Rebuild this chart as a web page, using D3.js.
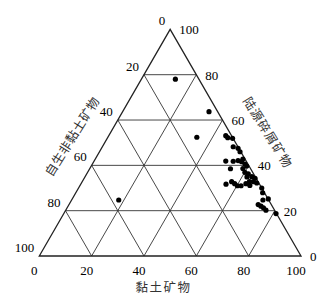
<!DOCTYPE html>
<html>
<head>
<meta charset="utf-8">
<script src="https://cdn.jsdelivr.net/npm/d3@7/dist/d3.min.js"></script>
<style>
  html, body { margin: 0; padding: 0; background: #fff; }
  svg { display: block; }
</style>
</head>
<body>
<div id="chart"></div>
<script>
// grid / tick values (percent)
const ticks = [0, 20, 40, 60, 80, 100]
const gridVals = [20, 40, 60, 80]

// axis titles
const bottomTitle = '黏土矿物'
const leftTitle = '自生非黏土矿物'
const rightTitle = '陆源碎屑矿物'

// samples: clay minerals (%) and terrigenous clastic minerals (%)
// authigenic non-clay = 100 - clay - clastic
const clay = [13, 33, 34, 18,
  44.7, 45.9, 47.9, 50.0, 52.2, 53.7, 50.3, 53.2, 54.9, 56.5, 58.3, 59.4,
  53.8, 60.1, 61.7, 61.9, 63.7, 65.3, 63.9, 65.4, 67.0, 55.5, 57.1, 58.7,
  60.2, 61.6, 63.0, 64.9, 70.0, 71.4, 74.9, 73.1, 72.3, 73.7, 75.0, 76.5,
  81.1, 56.4, 58.5]
const clastic = [78, 63.7, 52.4, 24.7,
  53.1, 52.2, 51.9, 48.2, 47.5, 46.0, 41.9, 41.8, 42.1, 41.6, 40.6, 39.7,
  38.5, 36.9, 36.3, 34.9, 35.0, 34.3, 32.8, 32.8, 32.2, 31.7, 32.8, 31.9,
  31.0, 31.0, 31.9, 31.1, 30.0, 27.9, 25.2, 24.7, 22.7, 22.0, 21.3, 20.2,
  18.7, 42.8, 38.6]

const width = 332, height = 305
const x0 = 39.3, x1 = 301, yBase = 256
const side = x1 - x0
const tri = side * Math.sqrt(3) / 2

const serif = 'Times New Roman, Liberation Serif, Times, serif'
const cjk = 'Noto Sans CJK SC, sans-serif'

// u runs along the base (0..100), v is the height (0..100)
const xs = d3.scaleLinear().domain([0, 100]).range([x0, x1])
const ys = d3.scaleLinear().domain([0, 100]).range([yBase, yBase - tri])

// a = clay, c = clastic
const px = (a, c) => xs(a + c / 2)
const py = (a, c) => ys(c)

const svg = d3.select('#chart').append('svg')
  .attr('width', width)
  .attr('height', height)

// grid lines
const grid = svg.append('g')
  .attr('stroke', '#333')
  .attr('stroke-width', 0.9)

gridVals.forEach(v => {
  // constant clastic (horizontal)
  grid.append('line')
    .attr('x1', px(0, v)).attr('y1', py(0, v))
    .attr('x2', px(100 - v, v)).attr('y2', py(100 - v, v))
  // constant clay
  grid.append('line')
    .attr('x1', px(v, 0)).attr('y1', py(v, 0))
    .attr('x2', px(v, 100 - v)).attr('y2', py(v, 100 - v))
  // constant authigenic
  grid.append('line')
    .attr('x1', px(100 - v, 0)).attr('y1', py(100 - v, 0))
    .attr('x2', px(0, 100 - v)).attr('y2', py(0, 100 - v))
})

// outline
svg.append('path')
  .attr('d', d3.line()([[px(0, 0), py(0, 0)], [px(100, 0), py(100, 0)], [px(0, 100), py(0, 100)]]) + 'Z')
  .attr('fill', 'none')
  .attr('stroke', '#222')
  .attr('stroke-width', 1.3)

const numText = sel => sel
  .style('font-family', serif)
  .style('font-size', '13px')
  .attr('fill', '#000')

// bottom ticks
svg.append('g').selectAll('text')
  .data(ticks)
  .join('text')
    .call(numText)
    .attr('text-anchor', 'middle')
    .attr('x', d => px(d, 0) - 5)
    .attr('y', yBase + 19)
    .text(d => d)

// left ticks (0 at top, 100 at bottom-left)
svg.append('g').selectAll('text')
  .data(ticks)
  .join('text')
    .call(numText)
    .attr('text-anchor', 'end')
    .attr('x', d => px(0, 100 - d) - 5)
    .attr('y', d => py(0, 100 - d) - 4)
    .text(d => d)

// right ticks (100 at top, 0 at bottom-right)
svg.append('g').selectAll('text')
  .data(ticks)
  .join('text')
    .call(numText)
    .attr('x', d => px(100 - d, d) + 9)
    .attr('y', d => py(100 - d, d) + 5)
    .text(d => d)

// titles
const titleText = sel => sel
  .style('font-family', cjk)
  .style('font-size', '12.5px')
  .attr('fill', '#333')
  .attr('text-anchor', 'middle')

svg.append('text')
  .call(titleText)
  .attr('x', 163.5).attr('y', 292)
  .attr('letter-spacing', 1.5)
  .text(bottomTitle)

svg.append('text')
  .call(titleText)
  .attr('transform', 'translate(76,139) rotate(-58)')
  .attr('letter-spacing', 0.5)
  .text(leftTitle)

svg.append('text')
  .call(titleText)
  .attr('transform', 'translate(264,135) rotate(58)')
  .attr('letter-spacing', 1)
  .text(rightTitle)

// samples
const pts = clay.map((a, i) => ({a, c: clastic[i]}))
svg.append('g').selectAll('circle')
  .data(pts)
  .join('circle')
    .attr('cx', d => px(d.a, d.c))
    .attr('cy', d => py(d.a, d.c))
    .attr('r', 2.6)
    .attr('fill', '#000')
</script>
</body>
</html>
